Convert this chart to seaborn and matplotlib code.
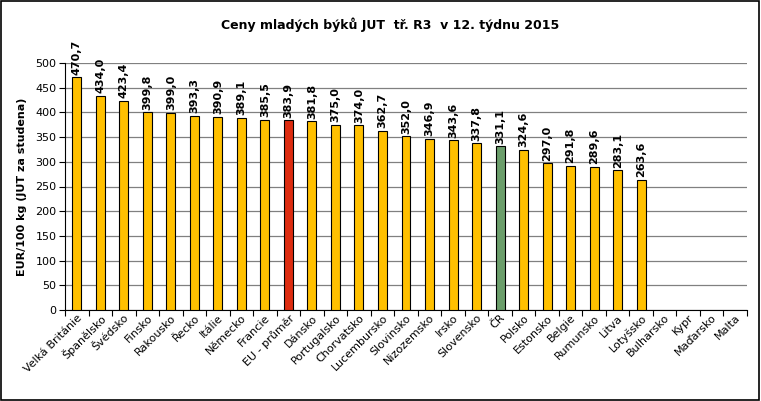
import numpy as np
import pandas as pd
import matplotlib
matplotlib.use("Agg")
import matplotlib.pyplot as plt
import seaborn as sns

categories = ["Velká Británie", "Španělsko", "Švédsko", "Finsko", "Rakousko", "Řecko",
              "Itálie", "Německo", "Francie", "EU - průměr", "Dánsko", "Portugalsko",
              "Chorvatsko", "Lucembursko", "Slovinsko", "Nizozemsko", "Irsko", "Slovensko",
              "ČR", "Polsko", "Estonsko", "Belgie", "Rumunsko", "Litva", "Lotyšsko",
              "Bulharsko", "Kypr", "Maďarsko", "Malta"]
values = [470.7, 434.0, 423.4, 399.8, 399.0, 393.3, 390.9, 389.1, 385.5, 383.9, 381.8,
          375.0, 374.0, 362.7, 352.0, 346.9, 343.6, 337.8, 331.1, 324.6, 297.0, 291.8,
          289.6, 283.1, 263.6, np.nan, np.nan, np.nan, np.nan]
y_ticks = [0, 50, 100, 150, 200, 250, 300, 350, 400, 450, 500]

sns.set_style("white")
plt.rcParams['font.family'] = ['DejaVu Sans']
plt.rcParams['text.color'] = 'black'
plt.rcParams['axes.labelcolor'] = 'black'
plt.rcParams['xtick.color'] = 'black'
plt.rcParams['ytick.color'] = 'black'

df = pd.DataFrame({"country": categories, "value": values})
colors = {c: "#FFC000" for c in categories}
colors["EU - průměr"] = "#DD2C10"
colors["ČR"] = "#6B9E6B"

fig = plt.figure(figsize=(7.61, 4.01), dpi=100)
ax = fig.add_axes([65/761, 1 - 310/401, 682/761, 247/401])
sns.barplot(data=df, x="country", y="value", hue="country", palette=colors,
            order=categories, hue_order=categories, legend=False, saturation=1,
            width=0.38, edgecolor="black", linewidth=0.8, ax=ax, zorder=3)

ax.set_ylim(0, 500)
ax.set_xlim(-0.5, len(categories) - 0.5)
ax.set_yticks(y_ticks)
ax.set_yticklabels([str(t) for t in y_ticks], fontsize=8)
ax.yaxis.grid(True, color="#808080", linewidth=0.9, zorder=0)
ax.set_axisbelow(True)
for s in ["top", "right"]:
    ax.spines[s].set_visible(False)
ax.spines["left"].set_color("black")
ax.spines["bottom"].set_color("black")
ax.spines["left"].set_linewidth(0.8)
ax.spines["bottom"].set_linewidth(0.8)
ax.tick_params(axis="y", length=4, direction="out", left=True, width=0.8, pad=2)
ax.set_xticks(np.arange(len(categories) + 1) - 0.5, minor=True)
ax.tick_params(axis="x", which="minor", length=4, bottom=True, width=0.8)
ax.tick_params(axis="x", which="major", length=0, pad=2)
ax.set_xticks(np.arange(len(categories)))
ax.set_xticklabels(categories, rotation=45, ha="right", rotation_mode="anchor", fontsize=8)
ax.set_xlabel("")
ax.set_ylabel("EUR/100 kg (JUT za studena)", fontsize=8, fontweight="bold", labelpad=6)

for i, v in enumerate(values):
    if not np.isnan(v):
        ax.text(i, v + 5, f"{v:.1f}".replace(".", ","), rotation=90, ha="center",
                va="bottom", fontsize=8, fontweight="bold", clip_on=False)

fig.text(0.5 + 10/761, 1 - 25/401, "Ceny mladých býků JUT  tř. R3  v 12. týdnu 2015",
         ha="center", va="center", fontsize=9, fontweight="bold")

border = plt.Rectangle((0.001, 0.002), 0.997, 0.996, transform=fig.transFigure,
                       fill=False, edgecolor="black", linewidth=1.2)
fig.add_artist(border)

fig.savefig("out.png", dpi=100, facecolor="white")
